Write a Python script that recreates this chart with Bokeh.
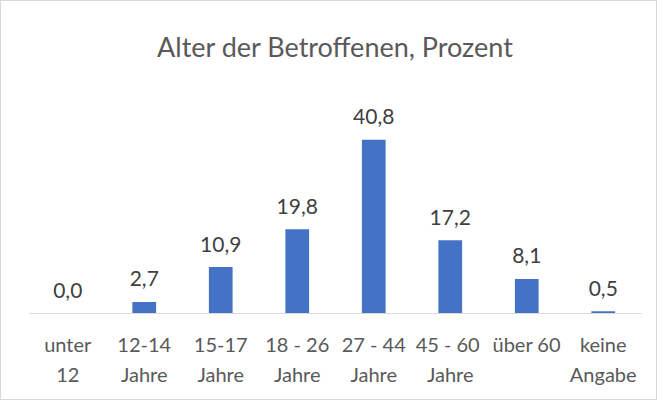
from bokeh.plotting import figure
from bokeh.models import ColumnDataSource, Range1d, FactorRange
from bokeh.core.properties import value
from bokeh.embed import file_html
from bokeh.resources import INLINE

categories = ["unter\n12", "12-14\nJahre", "15-17\nJahre", "18 - 26\nJahre",
              "27 - 44\nJahre", "45  - 60\nJahre", "über 60", "keine\nAngabe"]
values = [0.0, 2.7, 10.9, 19.8, 40.8, 17.2, 8.1, 0.5]
labels = ["0,0", "2,7", "10,9", "19,8", "40,8", "17,2", "8,1", "0,5"]

src = ColumnDataSource(dict(cat=categories, val=values, lab=labels))

p = figure(width=657, height=400, output_backend="svg", toolbar_location=None,
           x_range=FactorRange(*categories, range_padding=0),
           y_range=Range1d(0, 52.8), y_axis_location=None,
           min_border_left=28, min_border_right=17, min_border_top=0,
           min_border_bottom=88, tools="")
p.styles = {"border": "1px solid #d9d9d9"}
p.outline_line_color = None
p.xgrid.visible = False
p.ygrid.visible = False

p.title.text = "Alter der Betroffenen, Prozent"
p.title.align = "center"
p.title.text_font = "Lato"
p.title.text_font_size = "27px"
p.title.text_font_style = "normal"
p.title.text_color = "#595959"
p.title.standoff = 52

p.vbar(x="cat", top="val", width=0.31, source=src, fill_color="#4472C4",
       line_color=None)
p.text(x="cat", y="val", text="lab", source=src, text_align="center",
       text_baseline="alphabetic", y_offset=-23, text_font=value("Lato"),
       text_font_size="21px", text_color="#404040")

ax = p.xaxis[0]
ax.axis_line_color = "#d9d9d9"
ax.axis_line_width = 1
ax.major_tick_line_color = None
ax.minor_tick_line_color = None
ax.major_label_standoff = 12
ax.major_label_text_font = "Lato"
ax.major_label_text_font_size = "20px"
ax.major_label_text_color = "#595959"
ax.major_label_text_line_height = 1.25

open("out.html", "w").write(file_html(p, INLINE))
